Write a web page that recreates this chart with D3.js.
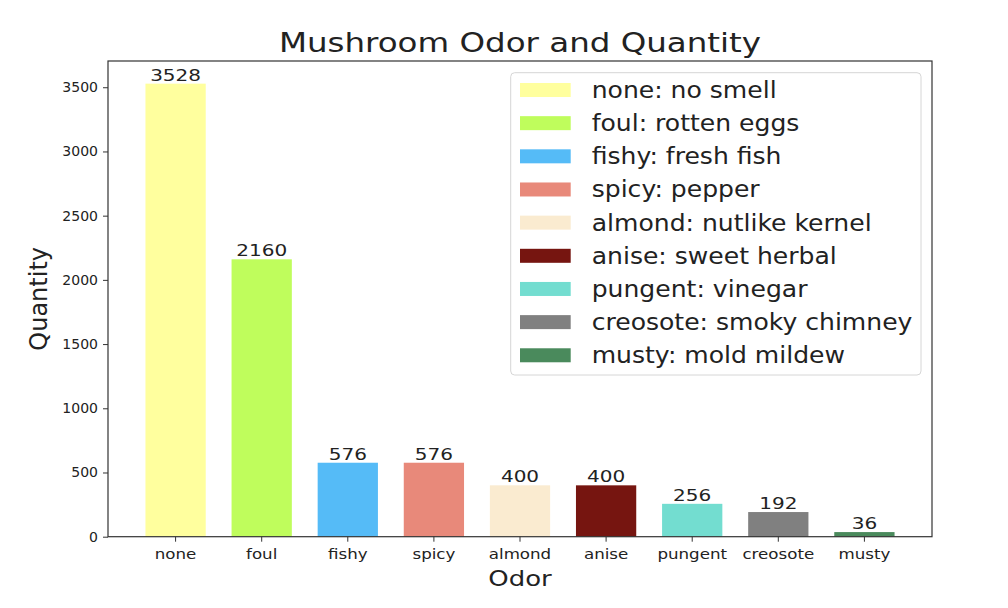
<!DOCTYPE html>
<html>
<head>
<meta charset="utf-8">
<script src="https://cdn.jsdelivr.net/npm/d3@7"></script>
<style>
  html, body { margin: 0; padding: 0; background: #fff; }
  svg { display: block; }
  text { font-family: "DejaVu Sans", sans-serif; fill: #222; }
</style>
</head>
<body>
<div id="chart"></div>
<script>
const categories = ["none", "foul", "fishy", "spicy", "almond", "anise", "pungent", "creosote", "musty"];
const quantities = [3528, 2160, 576, 576, 400, 400, 256, 192, 36];
const legendLabels = ["none: no smell", "foul: rotten eggs", "fishy: fresh fish", "spicy: pepper",
  "almond: nutlike kernel", "anise: sweet herbal", "pungent: vinegar", "creosote: smoky chimney", "musty: mold mildew"];
const colors = ["#FFFF9E", "#BFFD5C", "#55BBF7", "#E8897A", "#FAEBD0", "#761510", "#73DDD0", "#808080", "#4A8A5C"];
const yTicks = [0, 500, 1000, 1500, 2000, 2500, 3000, 3500];

const W = 1008, H = 608;
const plot = { left: 108, right: 932, top: 61, bottom: 536.7 };

const svg = d3.select("#chart").append("svg").attr("width", W).attr("height", H);

const x = d3.scaleBand().domain(categories).range([plot.left, plot.right])
  .paddingInner(0.3).paddingOuter(0.435);
const y = d3.scaleLinear().domain([0, d3.max(quantities) * 1.05]).range([plot.bottom, plot.top]);

// stretched text helper
function stext(g, x0, y0, str, size, sx, anchor) {
  return g.append("text")
    .attr("transform", `translate(${x0},${y0}) scale(${sx},1)`)
    .attr("text-anchor", anchor || "middle")
    .style("font-size", size + "px")
    .text(str);
}

// bars
svg.append("g").selectAll("rect").data(quantities).join("rect")
  .attr("x", (d, i) => x(categories[i]))
  .attr("width", x.bandwidth())
  .attr("y", d => y(d))
  .attr("height", d => y(0) - y(d))
  .attr("fill", (d, i) => colors[i]);

// value labels
const vl = svg.append("g");
quantities.forEach((d, i) => {
  stext(vl, x(categories[i]) + x.bandwidth() / 2, y(d) - 3, String(d), 16, 1.25);
});

// axes
const xAxis = svg.append("g").attr("transform", `translate(0,${plot.bottom})`)
  .call(d3.axisBottom(x).tickSize(5).tickSizeOuter(0));
xAxis.select(".domain").remove();
xAxis.selectAll("line").attr("stroke", "#333");
xAxis.selectAll("text").attr("y", 22).attr("dy", 0)
  .style("font-size", "14.5px").style("font-family", "DejaVu Sans").attr("fill", "#222")
  .attr("transform", "scale(1.15,1)");

const yAxis = svg.append("g").attr("transform", `translate(${plot.left},0)`)
  .call(d3.axisLeft(y).tickValues(yTicks).tickFormat(d3.format("d")).tickSize(5).tickPadding(5).tickSizeOuter(0));
yAxis.select(".domain").remove();
yAxis.selectAll("line").attr("stroke", "#333");
yAxis.selectAll("text").style("font-size", "14px").style("font-family", "DejaVu Sans").attr("fill", "#222");

// frame
svg.append("rect")
  .attr("x", plot.left).attr("y", plot.top)
  .attr("width", plot.right - plot.left).attr("height", plot.bottom - plot.top)
  .attr("fill", "none").attr("stroke", "#333").attr("stroke-width", 1.2);

// title and axis labels
stext(svg, (plot.left + plot.right) / 2, 52, "Mushroom Odor and Quantity", 26, 1.25);
stext(svg, (plot.left + plot.right) / 2, 586, "Odor", 22, 1.18);
svg.append("text")
  .attr("transform", `translate(47,${(plot.top + plot.bottom) / 2}) rotate(-90)`)
  .attr("text-anchor", "middle").style("font-size", "24px").text("Quantity");

// legend
const lg = svg.append("g");
lg.append("rect").attr("x", 510.7).attr("y", 72.7).attr("width", 410.3).attr("height", 302.3)
  .attr("rx", 4).attr("fill", "#fff").attr("stroke", "#d6d6d6").attr("stroke-width", 1);
const rowY0 = 90, rowStep = 33.16;
legendLabels.forEach((lab, i) => {
  const cy = rowY0 + i * rowStep;
  lg.append("rect").attr("x", 520).attr("y", cy - 7).attr("width", 50.7).attr("height", 14)
    .attr("fill", colors[i]);
  stext(lg, 591.7, cy + 8, lab, 23, 1.09, "start");
});
</script>
</body>
</html>
